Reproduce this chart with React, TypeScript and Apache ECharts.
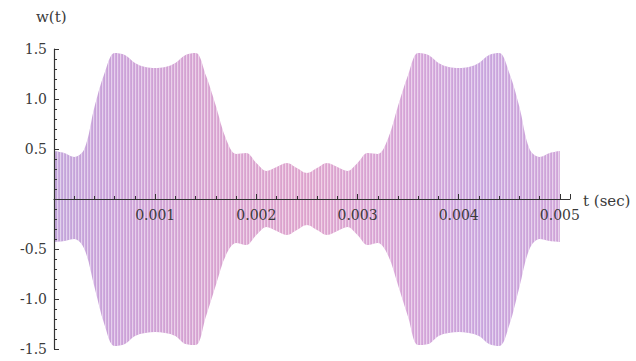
import React, { useEffect, useRef } from "react";
import * as echarts from "echarts";

// time samples in milliseconds
const T_MS = [
  0.0, 0.1, 0.2, 0.3, 0.4, 0.5, 0.6, 0.7, 0.8, 0.9,
  1.0, 1.1, 1.2, 1.3, 1.4, 1.5, 1.6, 1.7, 1.8, 1.9,
  2.0, 2.1, 2.2, 2.3, 2.4, 2.5, 2.6, 2.7, 2.8, 2.9,
  3.0, 3.1, 3.2, 3.3, 3.4, 3.5, 3.6, 3.7, 3.8, 3.9,
  4.0, 4.1, 4.2, 4.3, 4.4, 4.5, 4.6, 4.7, 4.8, 4.9, 5.0,
];

// upper envelope of w(t)
const UPPER = [
  0.48, 0.46, 0.42, 0.5, 0.92, 1.26, 1.46, 1.44, 1.36, 1.32,
  1.31, 1.32, 1.36, 1.44, 1.46, 1.24, 0.93, 0.6, 0.45, 0.46,
  0.36, 0.28, 0.32, 0.36, 0.31, 0.26, 0.31, 0.36, 0.32, 0.28,
  0.36, 0.46, 0.45, 0.6, 0.93, 1.24, 1.46, 1.44, 1.36, 1.32,
  1.31, 1.32, 1.36, 1.44, 1.46, 1.26, 0.92, 0.5, 0.42, 0.46, 0.48,
];

// lower envelope of w(t)
const LOWER = [
  -0.43, -0.42, -0.4, -0.5, -0.88, -1.26, -1.47, -1.45, -1.37, -1.34,
  -1.33, -1.34, -1.37, -1.45, -1.46, -1.18, -0.86, -0.56, -0.44, -0.46,
  -0.36, -0.28, -0.32, -0.36, -0.31, -0.26, -0.31, -0.36, -0.32, -0.28,
  -0.36, -0.46, -0.44, -0.56, -0.86, -1.18, -1.46, -1.45, -1.37, -1.34,
  -1.33, -1.34, -1.37, -1.45, -1.47, -1.26, -0.88, -0.5, -0.4, -0.42, -0.43,
];

const X_LABEL = "t (sec)";
const Y_LABEL = "w(t)";

const FONT = "'DejaVu Serif', 'Liberation Serif', serif";
const INK = "#3a3a3a";

export default function App() {
  const ref = useRef<HTMLDivElement>(null);

  useEffect(() => {
    if (!ref.current) return;
    const chart = echarts.init(ref.current, null, { renderer: "svg" });

    // stripe pattern imitating the dense carrier oscillation
    const cv = document.createElement("canvas");
    cv.width = 3;
    cv.height = 4;
    const ctx = cv.getContext("2d")!;
    ctx.clearRect(0, 0, 3, 4);
    ctx.fillStyle = "rgba(255,255,255,0.45)";
    ctx.fillRect(0, 0, 1, 4);
    ctx.fillStyle = "rgba(110,60,140,0.08)";
    ctx.fillRect(2, 0, 1, 4);

    const upper = T_MS.map((t, i) => [t / 1000, UPPER[i]]);
    const lower = T_MS.map((t, i) => [t / 1000, LOWER[i]]);

    const grad = new echarts.graphic.LinearGradient(0, 0, 1, 0, [
      { offset: 0, color: "#c9addf" },
      { offset: 0.12, color: "#d1aade" },
      { offset: 0.3, color: "#ddabd6" },
      { offset: 0.5, color: "#e4acd2" },
      { offset: 0.7, color: "#dcaddc" },
      { offset: 0.85, color: "#cfaee3" },
      { offset: 1, color: "#d6addd" },
    ]);

    const base = {
      type: "line" as const,
      showSymbol: false,
      smooth: 0.35,
      lineStyle: { width: 0, opacity: 0 },
      silent: true,
      z: 1,
    };

    chart.setOption({
      animation: false,
      grid: { left: 54, right: 66, top: 49, bottom: 12 },
      xAxis: {
        type: "value",
        position: "bottom",
        offset: -150,
        min: 0,
        max: 0.0051,
        interval: 0.001,
        axisLine: { onZero: false, lineStyle: { color: "#333", width: 1.2 } },
        axisTick: { inside: true, length: 5, lineStyle: { color: "#333" } },
        minorTick: { show: true, splitNumber: 5, length: 3, lineStyle: { color: "#333" } },
        splitLine: { show: false },
        axisLabel: {
          margin: 9,
          fontFamily: FONT,
          fontSize: 14,
          color: INK,
          formatter: (v: number) => (v < 0.0005 || v > 0.00505 ? "" : v.toFixed(3)),
        },
        z: 5,
      },
      yAxis: {
        type: "value",
        min: -1.5,
        max: 1.5,
        interval: 0.5,
        axisLine: { show: true, onZero: true, lineStyle: { color: "#333", width: 1.2 } },
        axisTick: { show: true, inside: true, length: 5, lineStyle: { color: "#333" } },
        minorTick: { show: true, splitNumber: 5, length: 3, lineStyle: { color: "#333" } },
        splitLine: { show: false },
        axisLabel: {
          margin: 7,
          fontFamily: FONT,
          fontSize: 14,
          color: INK,
          formatter: (v: number) => (Math.abs(v) < 1e-9 ? "" : v.toFixed(1)),
        },
        z: 5,
      },
      series: [
        { ...base, name: "upper", data: upper, areaStyle: { color: grad, opacity: 1 } },
        { ...base, name: "lower", data: lower, areaStyle: { color: grad, opacity: 1 } },
        {
          ...base,
          name: "upper-stripes",
          data: upper,
          z: 2,
          areaStyle: { color: { image: cv, repeat: "repeat" } as any, opacity: 1 },
        },
        {
          ...base,
          name: "lower-stripes",
          data: lower,
          z: 2,
          areaStyle: { color: { image: cv, repeat: "repeat" } as any, opacity: 1 },
        },
      ],
      graphic: [
        {
          type: "text",
          left: 36,
          top: 9,
          style: { text: Y_LABEL, fontFamily: FONT, fontSize: 15, fill: INK },
        },
        {
          type: "text",
          left: 583,
          top: 193,
          style: { text: X_LABEL, fontFamily: FONT, fontSize: 15, fill: INK },
        },
      ],
    });

    return () => chart.dispose();
  }, []);

  return (
    <div
      ref={ref}
      style={{ position: "absolute", left: 0, top: 0, width: 636, height: 361, background: "#fff" }}
    />
  );
}
